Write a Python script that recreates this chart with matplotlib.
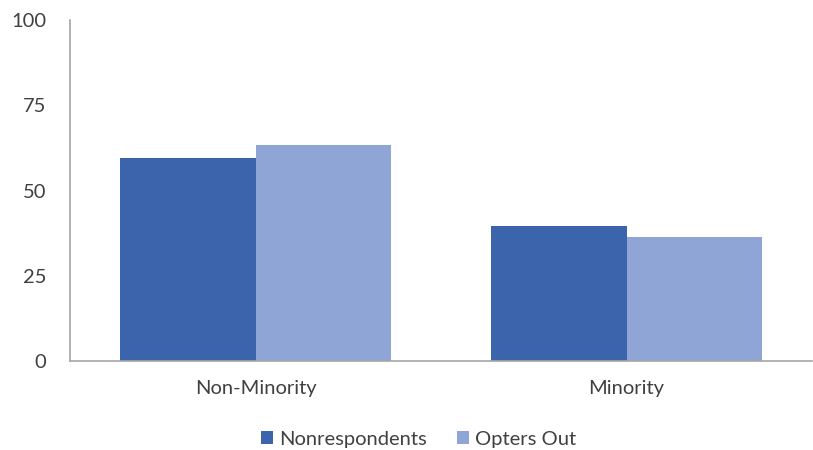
import numpy as np
import matplotlib.pyplot as plt

# dados do grafico
categorias = ["Non-Minority", "Minority"]
nonrespondents = [59.5, 39.8]
opters_out = [63.4, 36.5]
yticks = [0, 25, 50, 75, 100]

plt.rcParams['font.family'] = ['Lato', 'DejaVu Sans']

fig = plt.figure(figsize=(8.13, 4.5), dpi=100)
ax = fig.add_axes([0.0861, 0.1967, 0.9127, 0.759])

x = np.arange(len(categorias))
w = 0.366
ax.bar(x - w/2, nonrespondents, w, color='#3C64AC', label='Nonrespondents')
ax.bar(x + w/2, opters_out, w, color='#8FA5D5', label='Opters Out')

ax.set_xlim(-0.5, 1.5)
ax.set_ylim(0, 100)
ax.set_yticks(yticks)
ax.set_xticks(x)
ax.set_xticklabels(categorias)

for s in ['top', 'right']:
    ax.spines[s].set_visible(False)
for s in ['left', 'bottom']:
    ax.spines[s].set_color('#A6A6A6')
    ax.spines[s].set_linewidth(1.2)

ax.tick_params(axis='y', length=0, pad=17, labelsize=14.5, labelcolor='#404040')
ax.tick_params(axis='x', length=0, pad=13, labelsize=14.5, labelcolor='#404040')

ax.legend(loc='upper center', bbox_to_anchor=(0.47, -0.15), ncol=2, frameon=False,
          fontsize=14.5, labelcolor='#404040', handlelength=0.6, handleheight=0.6,
          handletextpad=0.3, columnspacing=1.5)

fig.savefig('out.png', dpi=100)
